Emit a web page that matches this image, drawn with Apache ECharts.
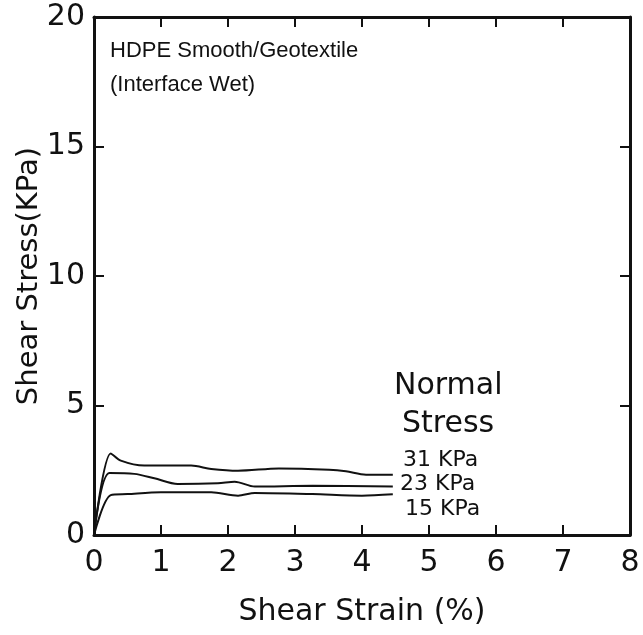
<!DOCTYPE html>
<html>
<head>
<meta charset="utf-8">
<script src="https://cdn.jsdelivr.net/npm/echarts@6/dist/echarts.min.js"></script>
<style>
  html, body { margin: 0; padding: 0; background: #fff; }
  #chart { width: 643px; height: 635px; }
</style>
</head>
<body>
<div id="chart"></div>
<script>
"use strict";
// shear strain (%) and shear stress (KPa)
var strain31 = [0, 0.25, 0.40, 0.75, 1.45, 1.75, 2.15, 2.76, 3.51, 3.76, 4.06, 4.46];
var stress31 = [0, 3.15, 2.87, 2.68, 2.68, 2.55, 2.48, 2.57, 2.52, 2.46, 2.33, 2.33];
var strain23 = [0, 0.23, 0.60, 0.90, 1.25, 1.85, 2.10, 2.40, 3.26, 4.46];
var stress23 = [0, 2.39, 2.36, 2.19, 1.97, 2.00, 2.06, 1.87, 1.90, 1.87];
var strain15 = [0, 0.25, 0.50, 1.00, 1.75, 2.15, 2.40, 3.26, 4.00, 4.46];
var stress15 = [0, 1.54, 1.58, 1.65, 1.65, 1.52, 1.62, 1.58, 1.52, 1.57];
var seriesNames = ["31 KPa", "23 KPa", "15 KPa"];

var chart = echarts.init(document.getElementById("chart"));
var font = "DejaVu Sans";
var titleFont = "Liberation Sans";

function pairs(xs, ys) {
    return xs.map(function (x, i) { return [x, ys[i]]; });
}

function curve(name, xs, ys) {
    return {
        name: name,
        type: "line",
        data: pairs(xs, ys),
        smooth: 0.3,
        symbol: "none",
        lineStyle: { color: "#111", width: 2 }
    };
}

var axisLine = { show: true, onZero: false, lineStyle: { color: "#111", width: 3 } };
var tick = { show: true, inside: true, length: 10, lineStyle: { color: "#111", width: 2 } };

var options = {
    animation: false,
    backgroundColor: "#fff",
    grid: { left: 94, right: 13, top: 17, bottom: 100 },
    xAxis: [{
        type: "value", min: 0, max: 8, interval: 1,
        name: "Shear Strain (%)", nameLocation: "middle", nameGap: 62,
        nameTextStyle: { fontFamily: font, fontSize: 30, color: "#111" },
        axisLine: axisLine, axisTick: tick, splitLine: { show: false },
        axisLabel: { fontFamily: font, fontSize: 30, color: "#111", margin: 13 }
    }, {
        type: "value", min: 0, max: 8, interval: 1, position: "top",
        axisLine: axisLine, axisTick: tick, splitLine: { show: false },
        axisLabel: { show: false }
    }],
    yAxis: [{
        type: "value", min: 0, max: 20, interval: 5,
        name: "Shear Stress(KPa)", nameLocation: "middle", nameGap: 50,
        nameMoveOverlap: false,
        nameTextStyle: { fontFamily: font, fontSize: 29, color: "#111" },
        axisLine: axisLine, axisTick: tick, splitLine: { show: false },
        axisLabel: { fontFamily: font, fontSize: 30, color: "#111", margin: 9 }
    }, {
        type: "value", min: 0, max: 20, interval: 5, position: "right",
        axisLine: axisLine, axisTick: tick, splitLine: { show: false },
        axisLabel: { show: false }
    }],
    series: [
        curve(seriesNames[0], strain31, stress31),
        curve(seriesNames[1], strain23, stress23),
        curve(seriesNames[2], strain15, stress15)
    ],
    graphic: [
        { type: "text", left: 110, top: 34, style: { text: "HDPE Smooth/Geotextile\n(Interface Wet)", font: "22px " + titleFont, fill: "#111", lineHeight: 34 } },
        { type: "text", left: 394, top: 371, style: { text: "Normal", font: "30px " + font, fill: "#111" } },
        { type: "text", left: 402, top: 409, style: { text: "Stress", font: "30px " + font, fill: "#111" } },
        { type: "text", left: 403, top: 449, style: { text: seriesNames[0], font: "22px " + font, fill: "#111" } },
        { type: "text", left: 400, top: 473, style: { text: seriesNames[1], font: "22px " + font, fill: "#111" } },
        { type: "text", left: 405, top: 498, style: { text: seriesNames[2], font: "22px " + font, fill: "#111" } }
    ]
};

chart.setOption(options);
</script>
</body>
</html>
